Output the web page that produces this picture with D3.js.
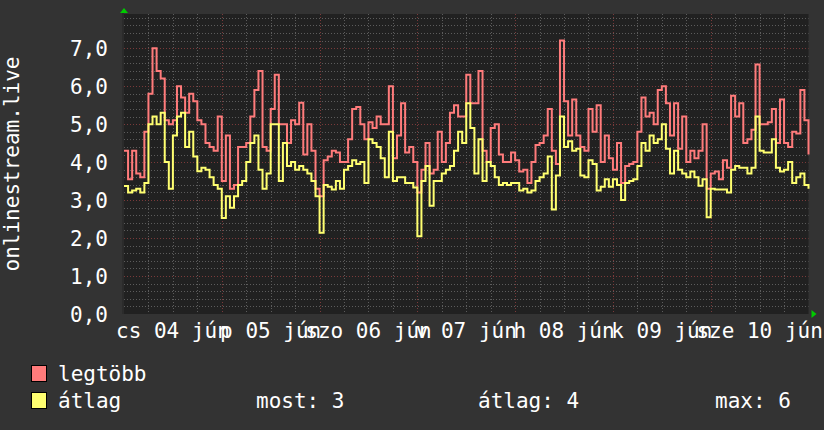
<!DOCTYPE html>
<html><head><meta charset="utf-8">
<script src="https://cdn.jsdelivr.net/npm/d3@7"></script>
<style>html,body{margin:0;padding:0;background:#333333;} svg{display:block;}</style>
</head><body>
<script>
// hourly samples over 7 days (h0 .. h168)
const legtobb = [
4.3,3.55,4.3,3.7,3.6,4.8,5.8,7.0,6.4,6.2,
5.1,5.0,5.1,6.0,5.7,5.3,5.8,5.6,5.1,5.0,
4.5,4.4,4.3,5.2,3.5,4.7,3.3,3.4,4.4,4.4,
4.5,5.2,5.9,6.4,4.4,4.3,5.4,6.3,5.0,5.0,
4.5,5.1,5.0,
5.56,4.2,5.0,4.3,3.3,3.1,4.05,4.15,4.3,4.25,
4.0,4.0,4.6,5.4,5.45,5.0,4.6,5.05,4.9,5.2,
5.0,5.0,6.0,4.1,4.7,5.55,4.25,4.4,4.0,3.2,
3.8,4.5,3.7,3.8,4.8,4.0,4.5,5.3,5.5,5.2,
5.2,6.3,5.55,
5.55,6.4,4.3,4.0,4.9,5.0,4.2,4.0,4.0,4.25,
4.05,3.75,3.8,3.45,4.0,4.45,4.5,4.7,5.4,4.3,
3.95,7.2,5.6,4.7,5.65,4.7,4.4,4.3,5.4,4.8,
5.5,4.0,4.7,4.1,3.8,4.5,3.45,3.9,3.95,4.0,
4.8,5.7,
5.2,5.3,5.0,5.9,6.0,5.55,4.7,5.55,4.35,5.2,
4.0,4.3,4.1,4.3,5.0,3.3,3.7,3.75,3.55,4.05,
3.85,5.75,5.2,5.55,4.5,4.6,4.85,6.57,5.0,5.0,
5.05,5.4,4.5,5.65,4.5,4.4,4.8,4.75,5.9,5.1,
4.2
];
const atlag = [
3.37,3.2,3.25,3.3,3.2,3.45,5.0,5.2,5.0,5.3,
4.0,3.3,4.7,5.2,5.3,4.4,4.8,4.15,3.76,3.85,
3.8,3.6,3.4,3.3,2.53,3.1,2.8,3.1,3.4,3.5,
4.0,4.5,4.7,3.8,3.3,3.7,5.0,5.0,3.5,4.5,
3.9,4.0,3.8,
3.9,3.8,3.7,3.5,3.1,2.14,3.4,3.35,3.28,3.5,
3.3,3.8,3.9,4.05,3.95,4.0,3.45,4.6,4.5,4.4,
4.1,3.6,4.8,3.5,3.6,3.6,3.45,3.45,3.33,2.05,
3.5,3.9,2.85,3.5,3.5,3.7,3.8,3.9,4.3,4.8,
4.5,5.55,4.9,
3.7,4.6,3.5,4.0,3.9,3.6,3.4,3.45,3.4,3.45,
3.45,3.25,3.3,3.2,3.25,3.5,3.6,3.7,4.15,2.75,
3.65,5.2,4.4,4.55,4.3,4.35,3.65,3.6,4.05,3.95,
3.25,3.35,3.55,3.35,3.55,3.4,3.0,3.45,3.5,3.55,
3.9,4.5,
4.3,4.7,4.5,4.6,5.0,4.35,3.7,4.3,3.8,3.7,
3.6,3.75,3.6,3.38,3.55,2.55,3.3,3.28,3.28,3.28,
3.2,3.8,3.9,3.85,3.85,3.7,3.85,5.2,4.3,4.25,
4.25,4.6,3.85,3.75,3.8,4.0,3.45,3.6,3.7,3.4,
3.3
];
const yTicks = [0,1,2,3,4,5,6,7];
const yTickLabels = ["0,0","1,0","2,0","3,0","4,0","5,0","6,0","7,0"];
const dayLabels = ["cs 04 jún","p 05 jún","szo 06 jún","v 07 jún","h 08 jún","k 09 jún","sze 10 jún"];
const seriesNames = ["legtöbb","átlag"];
const seriesColors = ["#ff7b7b","#ffff70"];
const statLabels = ["most: 3","átlag: 4","max: 6"];
const yTitle = "onlinestream.live";

(function(){
const W = 824, H = 430;
const pL = 124, pR = 808.5, pT = 14, pB = 314;
const font = "'DejaVu Sans Mono', monospace";

const svg = d3.select("body").append("svg").attr("width", W).attr("height", H);
svg.append("rect").attr("width", W).attr("height", H).attr("fill", "#333333");
svg.append("rect").attr("x", pL).attr("y", pT).attr("width", pR-pL).attr("height", pB-pT).attr("fill", "#212121");

const x = d3.scaleLinear().domain([0, 168]).range([pL, pR]);
const y = d3.scaleLinear().domain([0, 7.9]).range([pB, pT]);

const minorY = d3.range(1, 40).map(i => i*0.2).filter(v => Math.abs(v - Math.round(v)) > 0.01);
svg.append("g").selectAll("line").data(minorY).join("line")
  .attr("x1", pL).attr("x2", pR)
  .attr("y1", d => Math.round(y(d))+0.5).attr("y2", d => Math.round(y(d))+0.5)
  .attr("stroke", "#5c5c5c").attr("stroke-dasharray", "1,2");
const minorX = d3.range(6, 168, 6).filter(h => h % 24 !== 0);
svg.append("g").selectAll("line").data(minorX).join("line")
  .attr("y1", pT).attr("y2", pB)
  .attr("x1", d => Math.round(x(d))+0.5).attr("x2", d => Math.round(x(d))+0.5)
  .attr("stroke", "#5c5c5c").attr("stroke-dasharray", "1,2");
svg.append("g").selectAll("line").data(yTicks.slice(1)).join("line")
  .attr("x1", pL).attr("x2", pR)
  .attr("y1", d => Math.round(y(d))+0.5).attr("y2", d => Math.round(y(d))+0.5)
  .attr("stroke", "#7a3a3a").attr("stroke-dasharray", "1,2");
svg.append("g").selectAll("line").data(d3.range(24, 168, 24)).join("line")
  .attr("y1", pT).attr("y2", pB)
  .attr("x1", d => Math.round(x(d))+0.5).attr("x2", d => Math.round(x(d))+0.5)
  .attr("stroke", "#7a3a3a").attr("stroke-dasharray", "1,2");

const line = d3.line().x((d,i) => x(i)).y(d => y(d)).curve(d3.curveStepAfter);
[legtobb, atlag].forEach((s, k) => {
  svg.append("path").datum(s).attr("d", line).attr("fill", "none")
    .attr("stroke", seriesColors[k]).attr("stroke-width", 2).attr("stroke-linejoin", "miter");
});

svg.append("line").attr("x1", pL-1).attr("x2", pL-1).attr("y1", pT-2).attr("y2", pB).attr("stroke", "#2b2b2b").attr("stroke-width", 2);
svg.append("path").attr("d", `M${pL-4},${pT-1} L${pL+4},${pT-1} L${pL},${pT-6} Z`).attr("fill", "#00cc00");
svg.append("path").attr("d", `M${pR+3},${pB-4} L${pR+3},${pB+4} L${pR+8},${pB} Z`).attr("fill", "#00cc00");

svg.append("g").selectAll("text").data(yTicks).join("text")
  .attr("x", 108).attr("y", d => y(d) + 7.5)
  .attr("text-anchor", "end").attr("fill", "#ffffff")
  .style("font-family", font).style("font-size", "21px")
  .text((d,i) => yTickLabels[i]);

svg.append("g").selectAll("text").data(dayLabels).join("text")
  .attr("x", (d,i) => x(12 + 24*i)).attr("y", 338)
  .attr("text-anchor", "middle").attr("fill", "#ffffff")
  .style("font-family", font).style("font-size", "21px")
  .text(d => d);

svg.append("text").attr("transform", "translate(19,164) rotate(-90)")
  .attr("text-anchor", "middle").attr("fill", "#ffffff")
  .style("font-family", font).style("font-size", "21px")
  .text(yTitle);

const legY = [381, 408];
seriesNames.forEach((n, k) => {
  svg.append("rect").attr("x", 31.5).attr("y", legY[k]-15.5).attr("width", 15).attr("height", 16)
    .attr("fill", seriesColors[k]).attr("stroke", "#000").attr("stroke-width", 1);
  svg.append("text").attr("x", 58).attr("y", legY[k]).attr("fill", "#ffffff")
    .style("font-family", font).style("font-size", "21px").text(n);
});
const statX = [256, 478, 715];
statLabels.forEach((t, i) => {
  svg.append("text").attr("x", statX[i]).attr("y", legY[1]).attr("fill", "#ffffff")
    .style("font-family", font).style("font-size", "21px").text(t);
});
})();
</script>
</body></html>
